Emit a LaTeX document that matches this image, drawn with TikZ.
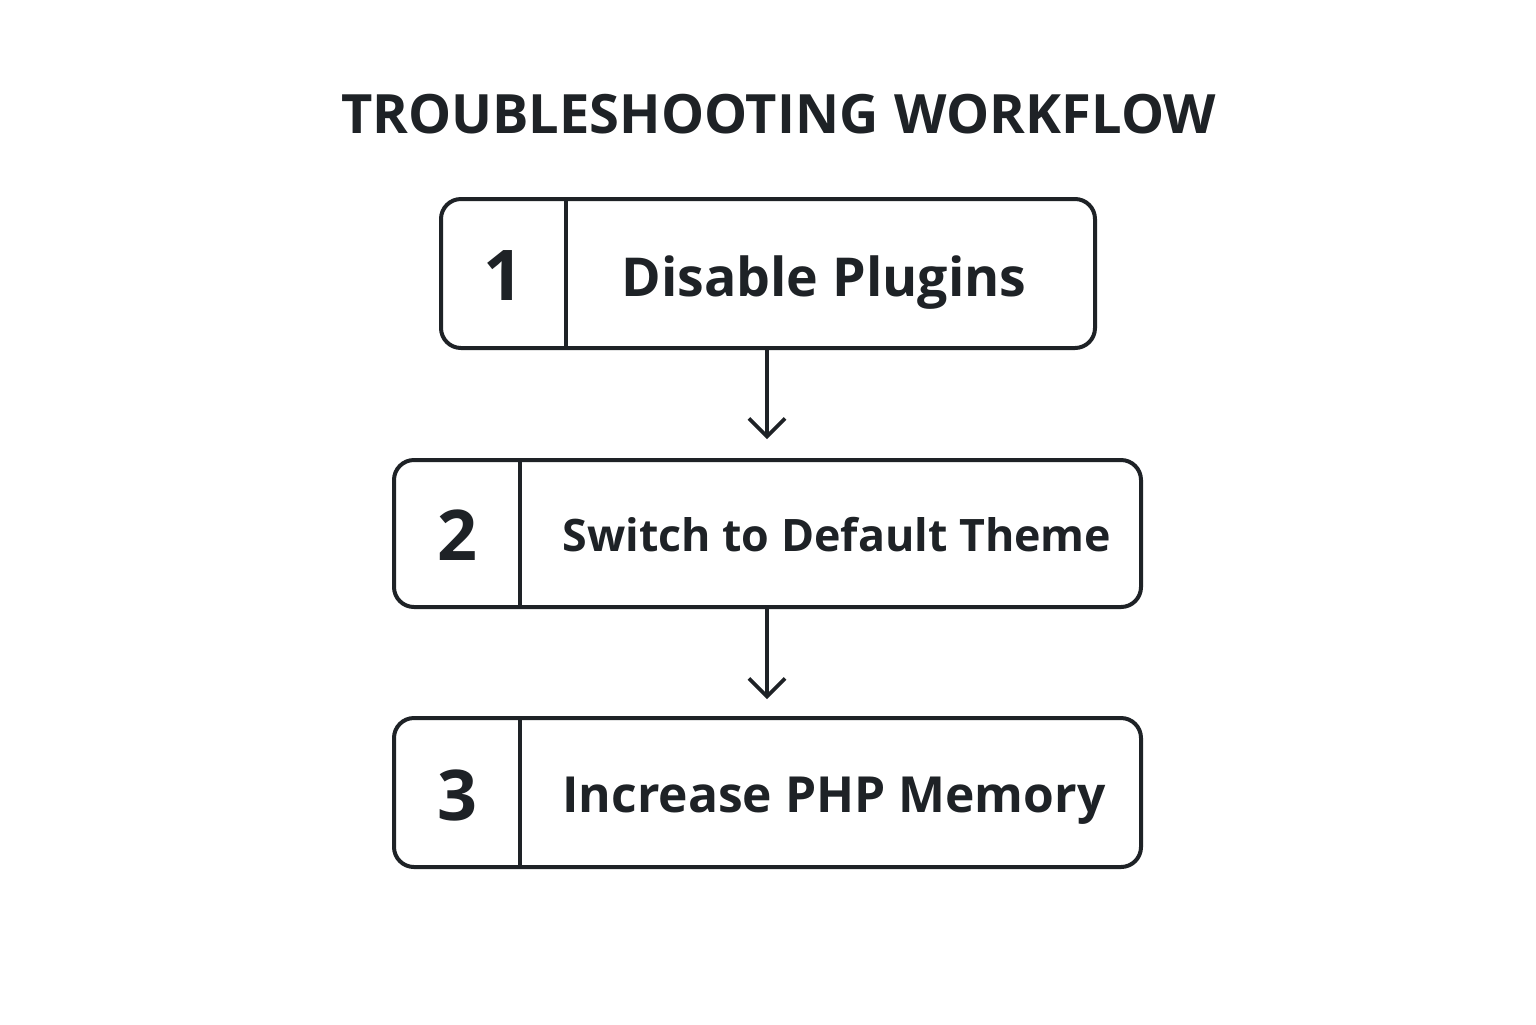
\documentclass[tikz,border=0pt]{standalone}
\usepackage{fontspec}
\setmainfont{Open Sans}
\usetikzlibrary{arrows.meta}
\definecolor{ink}{HTML}{1E2226}
\newcommand{\fitw}[2]{\resizebox{#1}{!}{#2}}
\begin{document}
\begin{tikzpicture}[x=0.5pt,y=-0.5pt,
  stepbox/.style={draw=ink,line width=2pt,rounded corners=10pt},
  divline/.style={draw=ink,line width=1.8pt},
  numtext/.style={text=ink,font=\fontsize{35}{35}\selectfont\bfseries,anchor=base,inner sep=0pt},
  labtext/.style={text=ink,font=\fontsize{27}{27}\selectfont\bfseries,anchor=base west,inner sep=0pt},
  flow/.style={draw=ink,line width=1.8pt,-{Straight Barb[length=9pt,width=18pt,line width=1.8pt]}}]
\useasboundingbox[fill=white] (0,0) rectangle (1536,1024);
\node[text=ink,font=\fontsize{27}{27}\selectfont\bfseries,anchor=base,inner sep=0pt] (title) at (778.5,133) {\fitw{437.5pt}{TROUBLESHOOTING\hspace{0.3em}WORKFLOW}};
% box 1
\draw[stepbox] (441,199) rectangle (1095,348);
\coordinate (b1t) at (566,199); \coordinate (b1b) at (566,348);
\draw[divline] (b1t) -- (b1b);
\node[numtext] (n1) at (503,300) {1};
\node[labtext] (l1) at (621,296) {\fitw{202.5pt}{Disable Plugins}};
% box 2
\draw[stepbox] (394,460) rectangle (1141,607);
\coordinate (b2t) at (520,460); \coordinate (b2b) at (520,607);
\draw[divline] (b2t) -- (b2b);
\node[numtext] (n2) at (457,560) {2};
\node[labtext] (l2) at (562,551) {\fitw{274.5pt}{Switch to Default Theme}};
% box 3
\draw[stepbox] (394,718) rectangle (1141,867);
\coordinate (b3t) at (520,718); \coordinate (b3b) at (520,867);
\draw[divline] (b3t) -- (b3b);
\node[numtext] (n3) at (457,820) {3};
\node[labtext] (l3) at (562,812) {\fitw{271.5pt}{Increase PHP Memory}};
% arrows
\coordinate (a1s) at (767,350); \coordinate (a1e) at (767,439);
\coordinate (a2s) at (767,609); \coordinate (a2e) at (767,699);
\draw[flow] (a1s) -- (a1e);
\draw[flow] (a2s) -- (a2e);
\end{tikzpicture}
\end{document}
